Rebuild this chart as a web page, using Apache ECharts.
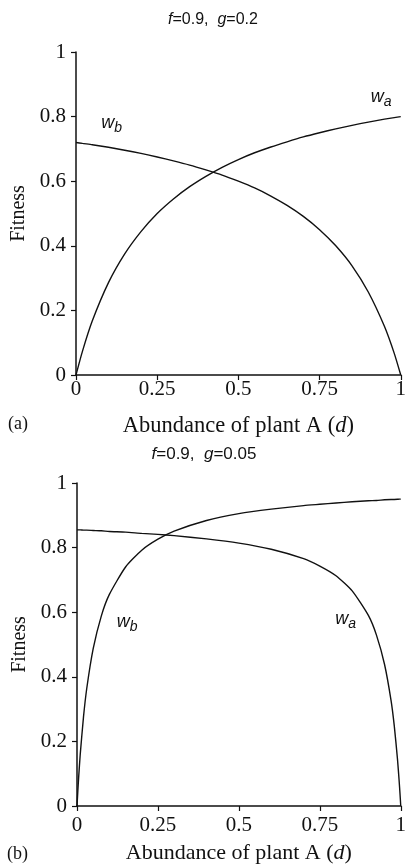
<!DOCTYPE html>
<html>
<head>
<meta charset="utf-8">
<script src="https://cdn.jsdelivr.net/npm/echarts@6/dist/echarts.min.js"></script>
<style>
  html, body { margin: 0; padding: 0; background: #fff; }
  #main { width: 409px; height: 865px; }
</style>
</head>
<body>
<div id="main"></div>
<script>
// panel (a): f=0.9, g=0.2
var abundanceA = [0, 0.02, 0.05, 0.1, 0.15, 0.2, 0.25, 0.3, 0.35, 0.4, 0.45, 0.5,
  0.55, 0.6, 0.65, 0.7, 0.75, 0.8, 0.85, 0.9, 0.95, 0.98, 1];
var fitnessA_wa = [0, 0.074, 0.167, 0.286, 0.375, 0.444, 0.5, 0.545, 0.583, 0.615, 0.643, 0.667,
  0.688, 0.706, 0.722, 0.737, 0.75, 0.762, 0.773, 0.783, 0.792, 0.797, 0.8];
var fitnessA_wb = [0.72, 0.717, 0.713, 0.705, 0.696, 0.686, 0.675, 0.663, 0.65, 0.635, 0.619, 0.6,
  0.579, 0.554, 0.525, 0.491, 0.45, 0.4, 0.338, 0.257, 0.15, 0.067, 0];

// panel (b): f=0.9, g=0.05
var abundanceB = [0, 0.0025, 0.005, 0.01, 0.02, 0.03, 0.05, 0.075, 0.1, 0.15, 0.2, 0.25, 0.3,
  0.4, 0.5, 0.6, 0.7, 0.75, 0.8, 0.85, 0.9, 0.925, 0.95, 0.97, 0.98, 0.99, 0.995, 0.9975, 1];
var fitnessB_wa = [0, 0.045, 0.087, 0.16, 0.275, 0.363, 0.487, 0.588, 0.655, 0.74, 0.792, 0.826, 0.851,
  0.884, 0.905, 0.919, 0.93, 0.934, 0.938, 0.942, 0.945, 0.946, 0.948, 0.949, 0.949, 0.9495, 0.95, 0.95, 0.95];
var fitnessB_wb = [0.855, 0.855, 0.855, 0.855, 0.854, 0.854, 0.853, 0.852, 0.85, 0.848, 0.844, 0.841, 0.837,
  0.827, 0.814, 0.795, 0.766, 0.743, 0.713, 0.666, 0.59, 0.529, 0.438, 0.327, 0.248, 0.144, 0.078, 0.041, 0];

var xTicks = [0, 0.25, 0.5, 0.75, 1];
var yTicks = [0, 0.2, 0.4, 0.6, 0.8, 1];

var serif = "'Liberation Serif', 'Times New Roman', serif";
var sans = "'Liberation Sans', Arial, sans-serif";

function pairs(xs, ys) {
  return xs.map(function (x, i) { return [x, ys[i]]; });
}

var subRich = {
  w: { fontFamily: sans, fontStyle: 'italic', fontSize: 18, color: '#111' },
  s: { fontFamily: sans, fontStyle: 'italic', fontSize: 14, color: '#111', padding: [10, 0, 0, 0] }
};

function xAxisFor(grid, gap, fs, labelMargin) {
  return {
    type: 'value', gridIndex: grid,
    min: xTicks[0], max: xTicks[xTicks.length - 1], interval: 0.25,
    name: '{n|Abundance of plant A (}{i|d}{n|)}',
    nameLocation: 'middle', nameGap: gap,
    nameTextStyle: {
      rich: {
        n: { fontFamily: serif, fontSize: fs, color: '#111' },
        i: { fontFamily: serif, fontSize: fs, fontStyle: 'italic', color: '#111' }
      }
    },
    splitLine: { show: false },
    axisLine: { onZero: false, lineStyle: { color: '#111', width: 1.5 } },
    axisTick: { length: 5, lineStyle: { color: '#111', width: 1.2 } },
    axisLabel: {
      fontFamily: serif, fontSize: 21, color: '#111', margin: labelMargin,
      formatter: function (v) { return String(v); }
    }
  };
}

function yAxisFor(grid) {
  return {
    type: 'value', gridIndex: grid,
    min: yTicks[0], max: yTicks[yTicks.length - 1], interval: 0.2,
    name: 'Fitness', nameLocation: 'middle', nameGap: 45,
    nameTextStyle: { fontFamily: serif, fontSize: 20, color: '#111' },
    splitLine: { show: false },
    axisLine: { onZero: false, lineStyle: { color: '#111', width: 1.5 } },
    axisTick: { length: 5, lineStyle: { color: '#111', width: 1.2 } },
    axisLabel: {
      fontFamily: serif, fontSize: 21, color: '#111', margin: 10,
      formatter: function (v) { return String(v); }
    }
  };
}

function curve(name, grid, xs, ys, labelAt, sub) {
  return {
    name: name, type: 'line', xAxisIndex: grid, yAxisIndex: grid,
    data: pairs(xs, ys),
    showSymbol: false, smooth: 0.2,
    lineStyle: { color: '#111', width: 1.4 },
    markPoint: {
      symbol: 'circle', symbolSize: 0, silent: true,
      label: {
        show: true, position: 'inside',
        formatter: '{w|w}{s|' + sub + '}', rich: subRich
      },
      data: [{ coord: labelAt }]
    }
  };
}

function titleText(x, y, g, fs) {
  return {
    type: 'text', x: x, y: y,
    style: {
      text: '{i|f}{n|=0.9,  }{i|g}{n|=' + g + '}', align: 'center', verticalAlign: 'middle',
      rich: {
        n: { fontFamily: sans, fontSize: fs, fill: '#111' },
        i: { fontFamily: sans, fontSize: fs, fontStyle: 'italic', fill: '#111' }
      }
    }
  };
}

var myChart = echarts.init(document.getElementById('main'));
var option = {
  backgroundColor: '#fff',
  animation: false,
  grid: [
    { left: 76, right: 4, top: 52, height: 323 },
    { left: 77, right: 1, top: 483, height: 326 }
  ],
  xAxis: [xAxisFor(0, 40, 22.5, 4), xAxisFor(1, 36, 22, 9)],
  yAxis: [yAxisFor(0), yAxisFor(1)],
  series: [
    curve('w_a (a)', 0, abundanceA, fitnessA_wa, [0.94, 0.86], 'a'),
    curve('w_b (a)', 0, abundanceA, fitnessA_wb, [0.11, 0.78], 'b'),
    curve('w_a (b)', 1, abundanceB, fitnessB_wa, [0.83, 0.58], 'a'),
    curve('w_b (b)', 1, abundanceB, fitnessB_wb, [0.155, 0.57], 'b')
  ],
  graphic: [
    titleText(213, 20, '0.2', 16),
    titleText(204, 454, '0.05', 17),
    {
      type: 'text', x: 8, y: 424,
      style: { text: '(a)', fontFamily: serif, fontSize: 18, fill: '#111', verticalAlign: 'middle' }
    },
    {
      type: 'text', x: 7, y: 854,
      style: { text: '(b)', fontFamily: serif, fontSize: 18, fill: '#111', verticalAlign: 'middle' }
    }
  ]
};
option && myChart.setOption(option);
</script>
</body>
</html>
